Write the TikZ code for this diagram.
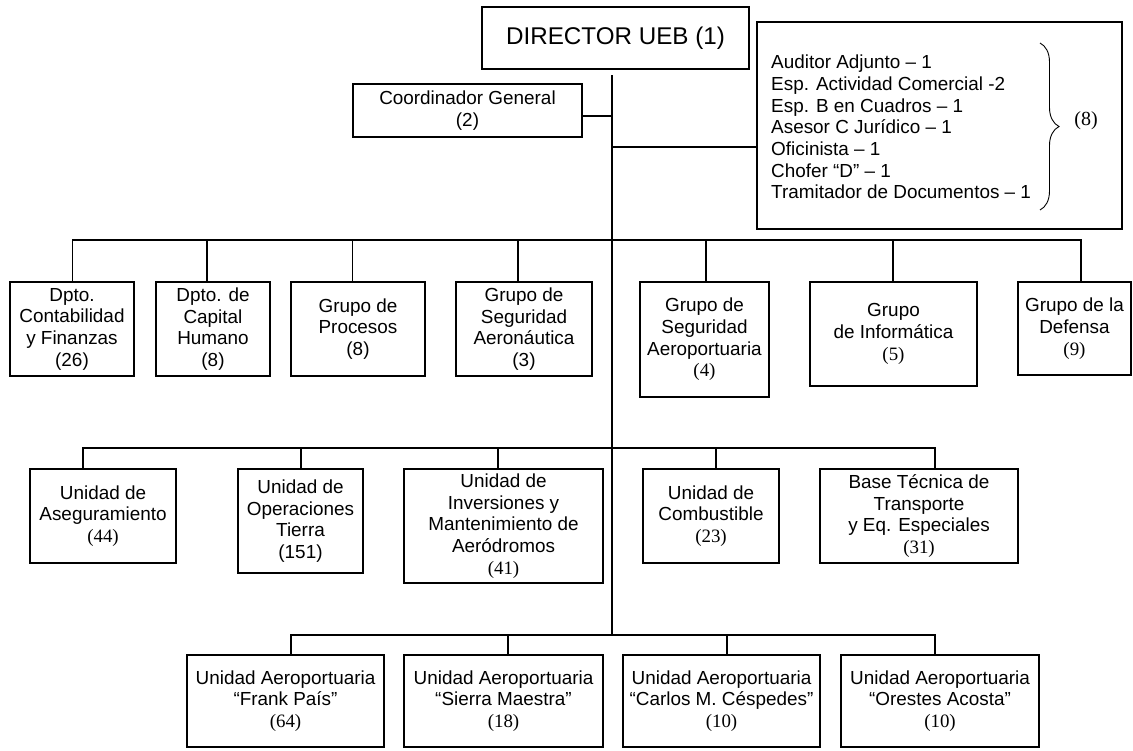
\documentclass[tikz,border=0pt]{standalone}
\usepackage{fontspec}
\setmainfont{Liberation Sans}
\newfontfamily\serifnum{Liberation Serif}
\usetikzlibrary{decorations.pathreplacing}
\newcommand\bodyfont{\fontsize{18.9}{21.7}\selectfont}
% \orgbox{name}{left}{right}{top}{bottom}{text}
\newcommand\orgbox[6]{\node[unit, minimum width={#3-#2}, minimum height={#5-#4}] (#1) at ({(#2+#3)/2},{(#4+#5)/2}) {#6};}
% \dropline{node}{x of the drop}{length up to the bus}
\newcommand\dropline[3]{\draw[link] (#1.north -| #2,0) -- ++(0,-#3);}
\begin{document}
\begin{tikzpicture}[x=1pt,y=-1pt,
  unit/.style={draw, line width=1.2pt, inner sep=0pt, align=center, font=\bodyfont},
  link/.style={line width=1.2pt}]
\useasboundingbox (0,0) rectangle (1133,750);

% top level
\node[unit, font=\fontsize{24.2}{27}\selectfont, minimum width=267, minimum height=62] (dir) at (615.5,38) {DIRECTOR UEB (1)};
\orgbox{coord}{353}{582}{84}{137}{Coordinador General\\(2)}
\orgbox{staff}{757}{1122}{22}{229}{}
\node[anchor=west, align=left, inner sep=0pt, font=\bodyfont] (list) at (771,127)
  {Auditor Adjunto – 1\\Esp. Actividad Comercial -2\\Esp. B en Cuadros – 1\\Asesor C Jurídico – 1\\Oficinista – 1\\Chofer “D” – 1\\Tramitador de Documentos – 1};
\draw[line width=0.9pt, decorate, decoration={brace, amplitude=19pt}] (1040,43) coordinate (brtop) -- (1040,210) coordinate (brbot);
\node[font=\fontsize{20}{22}\selectfont\serifnum, inner sep=0pt] (staffsum) at (1086,121) {(8)};

% trunk
\coordinate (trunktop) at (612,75);
\coordinate (trunkbot) at (612,635);
\draw[link] (trunktop) -- (trunkbot);
\draw[link] ([yshift=-5.5pt]coord.east) -- ([yshift=-5.5pt]coord.east -| trunktop);
\coordinate (jstaff) at (612,147);
\draw[link] (jstaff) -- (jstaff -| staff.west);

% second level
\orgbox{dcf}{10}{134}{282}{376}{Dpto.\\Contabilidad\\y Finanzas\\(26)}
\orgbox{dch}{156}{270}{282}{376}{Dpto. de\\Capital\\Humano\\(8)}
\orgbox{gpr}{291}{425}{282}{376}{Grupo de\\Procesos\\(8)}
\orgbox{gsa}{456}{592}{282}{376}{Grupo de\\Seguridad\\Aeronáutica\\(3)}
\orgbox{gsp}{640}{769}{282}{397}{Grupo de\\Seguridad\\Aeroportuaria\\{\serifnum (4)}}
\orgbox{gin}{810}{977}{282}{386}{Grupo\\de Informática\\{\serifnum (5)}}
\orgbox{gde}{1018}{1131}{282}{375}{Grupo de la\\Defensa\\{\serifnum (9)}}
\coordinate (bus2l) at (72.7,240);
\coordinate (bus2r) at (1081,240);
\draw[link] (bus2l) -- (bus2r);
\dropline{dcf}{72.7}{42}
\dropline{dch}{207}{42}
\dropline{gpr}{352.6}{42}
\dropline{gsa}{518}{42}
\dropline{gsp}{706}{42}
\dropline{gin}{893}{42}
\dropline{gde}{1081}{42}

% third level
\orgbox{uas}{30}{176}{469}{563}{Unidad de\\Aseguramiento\\{\serifnum (44)}}
\orgbox{uot}{238}{363}{469}{573}{Unidad de\\Operaciones\\Tierra\\(151)}
\orgbox{uim}{404}{603}{469}{583}{Unidad de\\Inversiones y\\Mantenimiento de\\Aeródromos\\{\serifnum (41)}}
\orgbox{uco}{643}{779}{469}{563}{Unidad de\\Combustible\\{\serifnum (23)}}
\orgbox{btt}{820}{1018}{469}{563}{Base Técnica de\\Transporte\\y Eq. Especiales\\{\serifnum (31)}}
\coordinate (bus3l) at (83,448);
\coordinate (bus3r) at (935,448);
\draw[link] (bus3l) -- (bus3r);
\dropline{uas}{83}{21}
\dropline{uot}{301}{21}
\dropline{uim}{498}{21}
\dropline{uco}{716}{21}
\dropline{btt}{935}{21}

% fourth level
\orgbox{ufp}{187}{384}{655}{747}{Unidad Aeroportuaria\\“Frank País”\\{\serifnum (64)}}
\orgbox{usm}{404}{603}{655}{747}{Unidad Aeroportuaria\\“Sierra Maestra”\\{\serifnum (18)}}
\orgbox{ucc}{623}{820}{655}{747}{Unidad Aeroportuaria\\“Carlos M. Céspedes”\\{\serifnum (10)}}
\orgbox{uoa}{841}{1039}{655}{747}{Unidad Aeroportuaria\\“Orestes Acosta”\\{\serifnum (10)}}
\coordinate (bus4l) at (291,635);
\coordinate (bus4r) at (935,635);
\draw[link] (bus4l) -- (bus4r);
\dropline{ufp}{291}{20}
\dropline{usm}{508}{20}
\dropline{ucc}{727}{20}
\dropline{uoa}{935}{20}
\end{tikzpicture}
\end{document}
